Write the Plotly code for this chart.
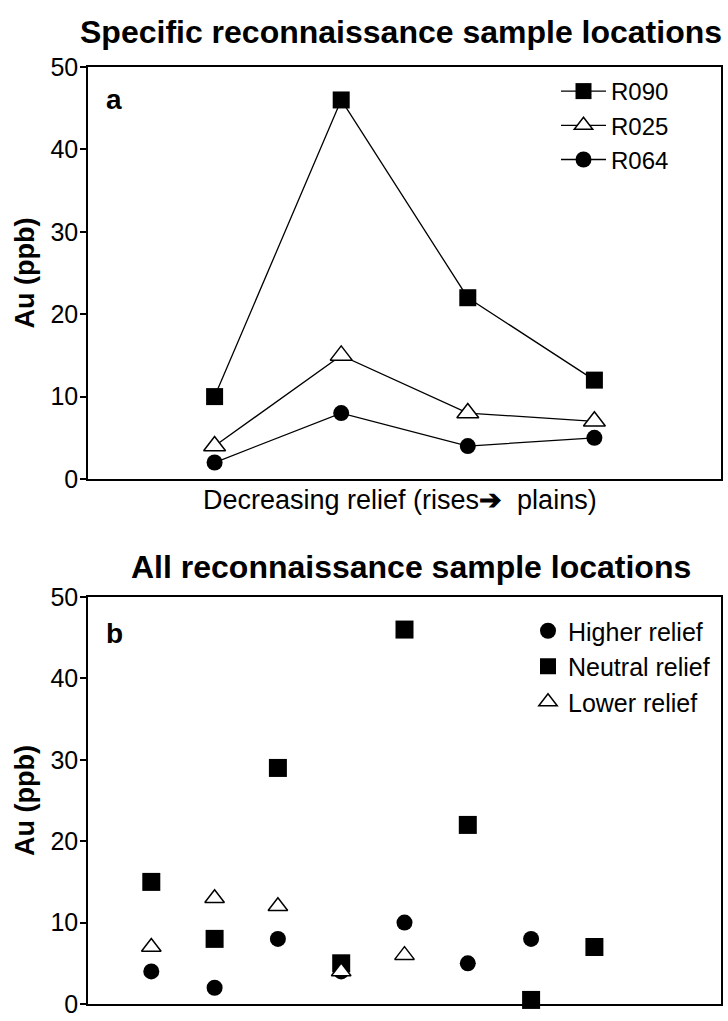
import plotly.graph_objects as go

# ---- data: panel a ----
pos_a = [1, 2, 3, 4]
r090 = [10, 46, 22, 12]
r025 = [4, 15, 8, 7]
r064 = [2, 8, 4, 5]

# ---- data: panel b ----
pos_higher = [1, 2, 3, 4, 5, 6, 7]
higher = [4, 2, 8, 4, 10, 5, 8]
pos_neutral = [1, 2, 3, 4, 5, 6, 7, 8]
neutral = [15, 8, 29, 5, 46, 22, 0.5, 7]
pos_lower = [1, 2, 3, 4, 5]
lower = [7, 13, 12, 4, 6]

yticks = [0, 10, 20, 30, 40, 50]

FONT = "Liberation Sans, Arial, sans-serif"
W, H = 728, 1021

def py(px):
    return 1 - px / H

fig = go.Figure()

line = dict(color="black", width=1.3)
fig.add_trace(go.Scatter(x=pos_a, y=r090, name="R090", mode="lines+markers",
                         line=line, marker=dict(symbol="square", size=17, color="black"),
                         xaxis="x", yaxis="y", legend="legend", cliponaxis=False))
fig.add_trace(go.Scatter(x=pos_a, y=r025, name="R025", mode="lines+markers",
                         line=line, marker=dict(symbol="triangle-up", size=19, color="white",
                                                line=dict(color="black", width=1.5)),
                         xaxis="x", yaxis="y", legend="legend", cliponaxis=False))
fig.add_trace(go.Scatter(x=pos_a, y=r064, name="R064", mode="lines+markers",
                         line=line, marker=dict(symbol="circle", size=16, color="black"),
                         xaxis="x", yaxis="y", legend="legend", cliponaxis=False))

fig.add_trace(go.Scatter(x=pos_higher, y=higher, name="Higher relief", mode="markers",
                         marker=dict(symbol="circle", size=16, color="black"),
                         xaxis="x2", yaxis="y2", legend="legend2", cliponaxis=False))
fig.add_trace(go.Scatter(x=pos_neutral, y=neutral, name="Neutral relief", mode="markers",
                         marker=dict(symbol="square", size=18, color="black"),
                         xaxis="x2", yaxis="y2", legend="legend2", cliponaxis=False))
fig.add_trace(go.Scatter(x=pos_lower, y=lower, name="Lower relief", mode="markers",
                         marker=dict(symbol="triangle-up", size=17, color="white",
                                     line=dict(color="black", width=1.5)),
                         xaxis="x2", yaxis="y2", legend="legend2", cliponaxis=False))

xdom = [88 / W, 721 / W]
axis_common = dict(showline=True, linecolor="black", linewidth=1.5, mirror=True,
                   showgrid=False, zeroline=False, automargin=False)
ytick_common = dict(range=[0, 50], tickvals=yticks, ticks="outside", ticklen=6,
                    tickwidth=1.5, tickcolor="black", tickfont=dict(size=25),
                    ticklabelstandoff=-3, ticklabeloverflow="allow")

fig.update_layout(
    width=W, height=H,
    margin=dict(l=0, r=0, t=0, b=0, autoexpand=False),
    plot_bgcolor="white", paper_bgcolor="white",
    font=dict(family=FONT, color="black", size=26),
    xaxis=dict(domain=xdom, range=[0, 5], showticklabels=False, ticks="",
               anchor="y", **axis_common),
    yaxis=dict(domain=[py(479), py(67)], anchor="x",
               title=dict(text="<b>Au (ppb)</b>", font=dict(size=27), standoff=8),
               **ytick_common, **axis_common),
    xaxis2=dict(domain=xdom, range=[0, 10], showticklabels=False, ticks="",
                anchor="y2", **axis_common),
    yaxis2=dict(domain=[py(1004), py(597)], anchor="x2",
                title=dict(text="<b>Au (ppb)</b>", font=dict(size=27), standoff=8),
                **ytick_common, **axis_common),
    legend=dict(x=556 / W, y=py(69), xanchor="left", yanchor="top",
                bgcolor="rgba(0,0,0,0)", font=dict(size=24), tracegroupgap=0,
                itemwidth=45),
    legend2=dict(x=528 / W, y=py(608), xanchor="left", yanchor="top",
                 bgcolor="rgba(0,0,0,0)", font=dict(size=25), tracegroupgap=0,
                 itemwidth=30),
    showlegend=True,
)

fig.add_annotation(text="<b>Specific reconnaissance sample locations</b>",
                   x=401 / W, y=py(32), xref="paper", yref="paper",
                   showarrow=False, font=dict(size=32), xanchor="center", yanchor="middle")
fig.add_annotation(text="<b>All reconnaissance sample locations</b>",
                   x=411 / W, y=py(567), xref="paper", yref="paper",
                   showarrow=False, font=dict(size=32), xanchor="center", yanchor="middle")
fig.add_annotation(text="Decreasing relief (rises<b>\u2794</b>  plains)",
                   x=400 / W, y=py(500), xref="paper", yref="paper",
                   showarrow=False, font=dict(size=27), xanchor="center", yanchor="middle")
fig.add_annotation(text="<b>a</b>", x=104 / W, y=py(100), xref="paper", yref="paper",
                   showarrow=False, font=dict(size=28), xanchor="left", yanchor="middle")
fig.add_annotation(text="<b>b</b>", x=104 / W, y=py(633), xref="paper", yref="paper",
                   showarrow=False, font=dict(size=28), xanchor="left", yanchor="middle")

fig.write_html("out.html")
